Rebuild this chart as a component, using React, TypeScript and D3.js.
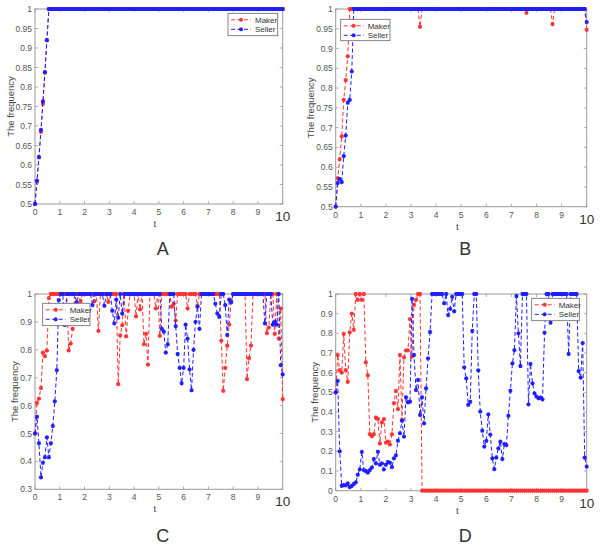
import React from "react";
import * as d3 from "d3";

// time grid (t = 0 .. 10)
const tValues: number[] = d3.range(126).map((i) => +(i * 0.08).toFixed(2));
const xTicks = [0, 1, 2, 3, 4, 5, 6, 7, 8, 9, 10];
const yTicksAB = [0.5, 0.55, 0.6, 0.65, 0.7, 0.75, 0.8, 0.85, 0.9, 0.95, 1];
const yTicksC = [0.3, 0.4, 0.5, 0.6, 0.7, 0.8, 0.9, 1];
const yTicksD = [0, 0.1, 0.2, 0.3, 0.4, 0.5, 0.6, 0.7, 0.8, 0.9, 1];
const seriesNames = ["Maker", "Seller"];
const panelLabels = ["A", "B", "C", "D"];

const makerA = [
  0.5, 0.557, 0.62, 0.685, 0.757, 0.837, 0.92, 1, 1, 1,
  1, 1, 1, 1, 1, 1, 1, 1, 1, 1,
  1, 1, 1, 1, 1, 1, 1, 1, 1, 1,
  1, 1, 1, 1, 1, 1, 1, 1, 1, 1,
  1, 1, 1, 1, 1, 1, 1, 1, 1, 1,
  1, 1, 1, 1, 1, 1, 1, 1, 1, 1,
  1, 1, 1, 1, 1, 1, 1, 1, 1, 1,
  1, 1, 1, 1, 1, 1, 1, 1, 1, 1,
  1, 1, 1, 1, 1, 1, 1, 1, 1, 1,
  1, 1, 1, 1, 1, 1, 1, 1, 1, 1,
  1, 1, 1, 1, 1, 1, 1, 1, 1, 1,
  1, 1, 1, 1, 1, 1, 1, 1, 1, 1,
  1, 1, 1, 1, 1, 1,
];
const sellerA = [
  0.5, 0.56, 0.62, 0.69, 0.763, 0.838, 0.92, 1, 1, 1,
  1, 1, 1, 1, 1, 1, 1, 1, 1, 1,
  1, 1, 1, 1, 1, 1, 1, 1, 1, 1,
  1, 1, 1, 1, 1, 1, 1, 1, 1, 1,
  1, 1, 1, 1, 1, 1, 1, 1, 1, 1,
  1, 1, 1, 1, 1, 1, 1, 1, 1, 1,
  1, 1, 1, 1, 1, 1, 1, 1, 1, 1,
  1, 1, 1, 1, 1, 1, 1, 1, 1, 1,
  1, 1, 1, 1, 1, 1, 1, 1, 1, 1,
  1, 1, 1, 1, 1, 1, 1, 1, 1, 1,
  1, 1, 1, 1, 1, 1, 1, 1, 1, 1,
  1, 1, 1, 1, 1, 1, 1, 1, 1, 1,
  1, 1, 1, 1, 1, 1,
];
const makerB = [
  0.5, 0.572, 0.62, 0.678, 0.77, 0.82, 0.88, 1, 1, 1,
  1, 1, 1, 1, 1, 1, 1, 1, 1, 1,
  1, 1, 1, 1, 1, 1, 1, 1, 1, 1,
  1, 1, 1, 1, 1, 1, 1, 1, 1, 1,
  1, 1, 0.955, 1, 1, 1, 1, 1, 1, 1,
  1, 1, 1, 1, 1, 1, 1, 1, 1, 1,
  1, 1, 1, 1, 1, 1, 1, 1, 1, 1,
  1, 1, 1, 1, 1, 1, 1, 1, 1, 1,
  1, 1, 1, 1, 1, 1, 1, 1, 1, 1,
  1, 1, 1, 1, 1, 0.99, 1, 1, 1, 1,
  1, 1, 1, 1, 1, 1, 1, 1, 0.962, 1,
  1, 1, 1, 1, 1, 1, 1, 1, 1, 1,
  1, 1, 1, 1, 1, 0.947,
];
const sellerB = [
  0.5, 0.56, 0.57, 0.562, 0.628, 0.68, 0.763, 0.77, 0.842, 1,
  1, 1, 1, 1, 1, 1, 1, 1, 1, 1,
  1, 1, 1, 1, 1, 1, 1, 1, 1, 1,
  1, 1, 1, 1, 1, 1, 1, 1, 1, 1,
  1, 1, 1, 1, 1, 1, 1, 1, 1, 1,
  1, 1, 1, 1, 1, 1, 1, 1, 1, 1,
  1, 1, 1, 1, 1, 1, 1, 1, 1, 1,
  1, 1, 1, 1, 1, 1, 1, 1, 1, 1,
  1, 1, 1, 1, 1, 1, 1, 1, 1, 1,
  1, 1, 1, 1, 1, 1, 1, 1, 1, 1,
  1, 1, 1, 1, 1, 1, 1, 1, 1, 1,
  1, 1, 1, 1, 1, 1, 1, 1, 1, 1,
  1, 1, 1, 1, 1, 0.967,
];
const makerC = [
  0.5, 0.61, 0.625, 0.663, 0.79, 0.777, 0.797, 0.985, 1, 1,
  1, 1, 1, 1, 1, 1, 1, 0.798, 0.822, 0.875,
  1, 1, 1, 0.975, 1, 1, 1, 1, 1, 1,
  0.974, 1, 0.868, 1, 1, 1, 1, 0.972, 1, 1,
  1, 1, 0.677, 0.852, 0.888, 1, 0.848, 0.94, 1, 1,
  1, 0.92, 1, 0.945, 1, 0.82, 0.857, 0.747, 1, 1,
  1, 0.948, 1, 0.85, 1, 1, 1, 1, 1, 0.955,
  0.965, 0.905, 1, 1, 1, 1, 1, 0.948, 1, 1,
  1, 1, 0.958, 1, 1, 1, 1, 1, 1, 1,
  1, 1, 1, 1, 0.833, 0.653, 0.735, 0.815, 0.89, 0.975,
  1, 1, 1, 1, 1, 1, 1, 0.695, 0.77, 0.815,
  1, 1, 1, 1, 1, 1, 1, 0.86, 0.88, 1,
  1, 0.857, 1, 0.84, 0.948, 0.623,
];
const sellerC = [
  0.5, 0.56, 0.465, 0.343, 0.395, 0.415, 0.486, 0.415, 0.465, 0.527,
  0.615, 0.727, 0.978, 1, 1, 0.889, 1, 1, 1, 1,
  1, 0.97, 1, 1, 1, 1, 1, 1, 1, 0.96,
  1, 1, 1, 1, 1, 0.958, 1, 1, 1, 0.94,
  0.895, 0.98, 0.915, 1, 0.93, 1, 1, 1, 1, 1,
  1, 1, 1, 1, 1, 1, 1, 1, 1, 1,
  1, 1, 1, 1, 0.875, 0.865, 0.79, 0.82, 1, 1,
  1, 0.885, 0.785, 0.735, 0.68, 0.735, 0.89, 0.84, 0.73, 0.655,
  0.8, 0.9, 0.955, 0.875, 1, 1, 1, 1, 1, 1,
  1, 0.965, 0.93, 0.918, 1, 1, 0.96, 0.853, 0.98, 0.97,
  1, 1, 1, 1, 1, 1, 1, 1, 1, 1,
  1, 1, 1, 1, 1, 1, 0.895, 1, 1, 1,
  0.89, 0.9, 0.89, 1, 0.745, 0.712,
];
const makerD = [
  0.5, 0.69, 0.613, 0.6, 0.797, 0.613, 0.553, 0.805, 0.9, 0.818,
  1, 0.97, 1, 0.97, 1, 0.653, 0.587, 0.288, 0.277, 0.287,
  0.372, 0.365, 0.24, 0.347, 0.364, 0.244, 0.25, 0.235, 0.287, 0.445,
  0.507, 0.415, 0.69, 0.36, 0.677, 0.713, 0.713, 0.872, 0.682, 0.944,
  0.97, 1, 1, 0, 0, 0, 0, 0, 0, 0,
  0, 0, 0, 0, 0, 0, 0, 0, 0, 0,
  0, 0, 0, 0, 0, 0, 0, 0, 0, 0,
  0, 0, 0, 0, 0, 0, 0, 0, 0, 0,
  0, 0, 0, 0, 0, 0, 0, 0, 0, 0,
  0, 0, 0, 0, 0, 0, 0, 0, 0, 0,
  0, 0, 0, 0, 0, 0, 0, 0, 0, 0,
  0, 0, 0, 0, 0, 0, 0, 0, 0, 0,
  0, 0, 0, 0, 0, 0,
];
const sellerD = [
  0.5, 0.558, 0.2, 0.025, 0.028, 0.027, 0.037, 0.018, 0.024, 0.034,
  0.042, 0.081, 0.108, 0.197, 0.105, 0.1, 0.092, 0.105, 0.117, 0.161,
  0.139, 0.198, 0.132, 0.139, 0.108, 0.132, 0.146, 0.142, 0.12, 0.164,
  0.18, 0.254, 0.292, 0.356, 0.275, 0.475, 0.449, 0.453, 0.975, 0.69,
  0.512, 0.563, 0.385, 0.475, 0.342, 0.52, 0.673, 0.807, 1, 1,
  1, 1, 1, 1, 0.953, 1, 0.893, 0.924, 0.986, 0.912,
  1, 1, 1, 1, 0.627, 0.571, 0.436, 0.452, 0.812, 1,
  1, 0.612, 0.402, 0.305, 0.224, 0.253, 0.388, 0.285, 0.164, 0.11,
  0.169, 0.215, 0.249, 0.161, 0.237, 0.232, 0.381, 0.508, 0.647, 0.715,
  0.99, 0.8, 0.634, 1, 1, 1, 0.439, 0.644, 0.546, 0.495,
  0.478, 0.47, 0.473, 0.464, 0.803, 1, 1, 0.854, 1, 1,
  1, 1, 1, 1, 1, 1, 0.695, 1, 1, 1,
  1, 0.608, 0.575, 0.75, 0.168, 0.122,
];

const RED = "#ff3030";
const BLUE = "#1e1eff";
const AXIS = "#9a9a9a";
const TXT = "#555";
const FONT = "'Liberation Sans', Arial, Helvetica, sans-serif";

type PanelSpec = {
  label: string;
  maker: number[];
  seller: number[];
  yDomain: [number, number];
  yTicks: number[];
  left: number;
  right: number;
  top: number;
  bottom: number;
  ylabOff: number;
  legend: { x: number; y: number; w: number; h: number };
  letterY: number;
};

const panels: PanelSpec[] = [
  { label: panelLabels[0], maker: makerA, seller: sellerA, yDomain: [0.5, 1], yTicks: yTicksAB,
    left: 35, right: 282.7, top: 9, bottom: 204, ylabOff: 25,
    legend: { x: 228, y: 13.3, w: 49.7, h: 22.4 }, letterY: 248 },
  { label: panelLabels[1], maker: makerB, seller: sellerB, yDomain: [0.5, 1], yTicks: yTicksAB,
    left: 335.7, right: 586.7, top: 9, bottom: 206.7, ylabOff: 25.5,
    legend: { x: 340.7, y: 19.3, w: 49.3, h: 21.4 }, letterY: 248 },
  { label: panelLabels[2], maker: makerC, seller: sellerC, yDomain: [0.3, 1], yTicks: yTicksC,
    left: 35, right: 282.7, top: 294, bottom: 489.3, ylabOff: 21,
    legend: { x: 42.7, y: 303.3, w: 47.3, h: 22.4 }, letterY: 535 },
  { label: panelLabels[3], maker: makerD, seller: sellerD, yDomain: [0, 1], yTicks: yTicksD,
    left: 335.7, right: 586.7, top: 294, bottom: 490.7, ylabOff: 21.7,
    legend: { x: 531.7, y: 298.3, w: 47.6, h: 22.4 }, letterY: 535 },
];

function starPath(x: number, y: number, r: number) {
  const d = r * 0.72;
  return `M${x - r},${y}h${2 * r}M${x},${y - r}v${2 * r}M${x - d},${y - d}l${2 * d},${2 * d}M${x - d},${y + d}l${2 * d},${-2 * d}`;
}

function fmt(v: number) {
  return String(+v.toFixed(2));
}

function Panel({ p }: { p: PanelSpec }) {
  const x = d3.scaleLinear().domain([0, 10]).range([p.left, p.right]);
  const y = d3.scaleLinear().domain(p.yDomain).range([p.bottom, p.top]);
  const line = d3
    .line<number>()
    .x((_, i) => x(tValues[i]))
    .y((v) => y(v));
  const series = [
    { name: seriesNames[0], data: p.maker, color: RED },
    { name: seriesNames[1], data: p.seller, color: BLUE },
  ];
  const tl = 3;
  const cx = (p.left + p.right) / 2;
  const cy = (p.top + p.bottom) / 2;
  return (
    <g>
      {xTicks.map((t) => (
        <g key={"xt" + t}>
          <line x1={x(t)} x2={x(t)} y1={p.bottom} y2={p.bottom - tl} stroke={AXIS} strokeWidth={0.8} />
          <line x1={x(t)} x2={x(t)} y1={p.top} y2={p.top + tl} stroke={AXIS} strokeWidth={0.8} />
          {t === 10 ? (
            <text x={x(t)} y={p.bottom + 17} fontSize={13.5} fill="#333" textAnchor="middle" fontFamily={FONT}>
              {t}
            </text>
          ) : (
            <text x={x(t)} y={p.bottom + 11} fontSize={8.5} fill={TXT} textAnchor="middle" fontFamily={FONT}>
              {t}
            </text>
          )}
        </g>
      ))}
      {p.yTicks.map((v) => (
        <g key={"yt" + v}>
          <line x1={p.left} x2={p.left + tl} y1={y(v)} y2={y(v)} stroke={AXIS} strokeWidth={0.8} />
          <line x1={p.right} x2={p.right - tl} y1={y(v)} y2={y(v)} stroke={AXIS} strokeWidth={0.8} />
          <text x={p.left - 3} y={y(v) + 3} fontSize={8.5} fill={TXT} textAnchor="end" fontFamily={FONT}>
            {fmt(v)}
          </text>
        </g>
      ))}
      <rect x={p.left} y={p.top} width={p.right - p.left} height={p.bottom - p.top} fill="none" stroke={AXIS} strokeWidth={1} />
      {series.map((s) => (
        <g key={s.name}>
          <path d={line(s.data) || ""} fill="none" stroke={s.color} strokeWidth={1} strokeDasharray="4 2.5" />
          <path
            d={s.data.map((v, i) => starPath(x(tValues[i]), y(v), 2.1)).join("")}
            fill="none"
            stroke={s.color}
            strokeWidth={1.15}
          />
        </g>
      ))}
      <rect x={p.legend.x} y={p.legend.y} width={p.legend.w} height={p.legend.h} fill="#fff" stroke="#666" strokeWidth={0.8} />
      {series.map((s, i) => {
        const ly = p.legend.y + 6.5 + i * 9.5;
        const lx = p.legend.x + 3;
        return (
          <g key={"lg" + s.name}>
            <line x1={lx} x2={lx + 20} y1={ly} y2={ly} stroke={s.color} strokeWidth={1} strokeDasharray="4 2.5" />
            <path d={starPath(lx + 10, ly, 2)} stroke={s.color} strokeWidth={1.1} fill="none" />
            <text x={lx + 24} y={ly + 2.9} fontSize={8} fill="#333" fontFamily={FONT}>
              {s.name}
            </text>
          </g>
        );
      })}
      <text x={cx - 4} y={p.bottom + 23} fontSize={9.5} fill="#444" textAnchor="middle" fontFamily={FONT}>
        t
      </text>
      <text
        transform={`translate(${p.left - p.ylabOff},${cy}) rotate(-90)`}
        fontSize={9.5}
        fill="#444"
        textAnchor="middle"
        dy={3.5}
        fontFamily={FONT}
      >
        The frequency
      </text>
      <text x={cx + 4} y={p.letterY + 6.5} fontSize={18} fill="#333" textAnchor="middle" fontFamily={FONT}>
        {p.label}
      </text>
    </g>
  );
}

export default function App() {
  return (
    <svg width={600} height={545} style={{ position: "absolute", left: 0, top: 0, background: "#fff" }}>
      <rect x={0} y={0} width={600} height={545} fill="#fff" />
      {panels.map((p) => (
        <Panel key={p.label} p={p} />
      ))}
    </svg>
  );
}
